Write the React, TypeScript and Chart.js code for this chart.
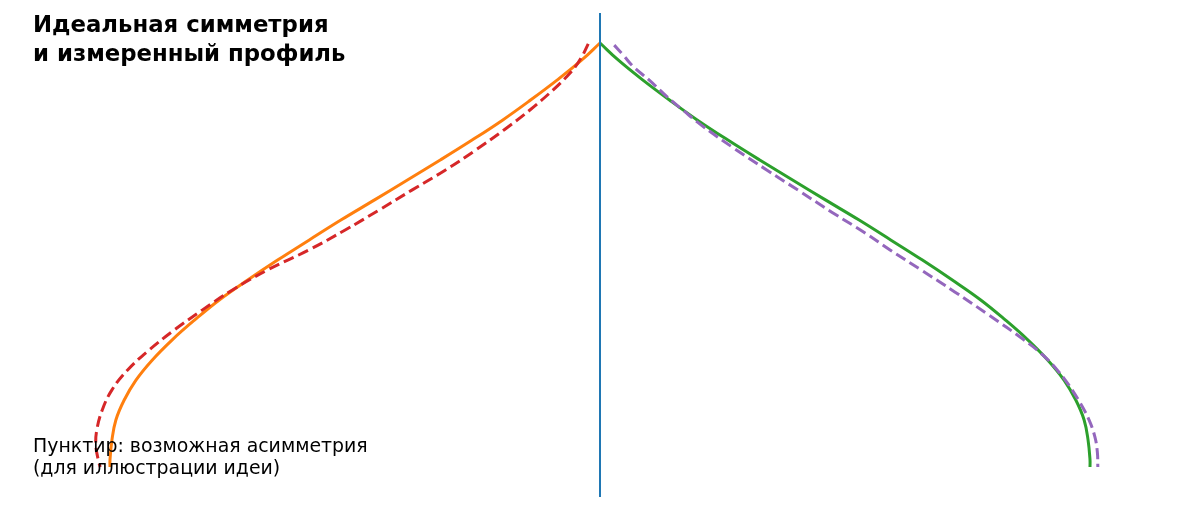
import React, { useEffect, useRef } from "react";
import { Chart, registerables } from "chart.js";

Chart.register(...registerables);

// Ideal profile (half-width r vs normalized height h); mirrored left/right
const idealH = [1.0, 0.960, 0.913, 0.866, 0.818, 0.771, 0.724, 0.677, 0.630, 0.583, 0.535, 0.488, 0.441, 0.394, 0.347, 0.300, 0.252, 0.205, 0.158, 0.111, 0.064, 0.017, 0.0];
const idealR = [0.0, 0.037, 0.087, 0.141, 0.199, 0.261, 0.326, 0.393, 0.460, 0.528, 0.594, 0.658, 0.719, 0.777, 0.827, 0.873, 0.914, 0.947, 0.971, 0.988, 0.996, 1.0, 1.0];

// Measured left side (dashed red)
const leftH = [0.998, 0.972, 0.943, 0.917, 0.889, 0.842, 0.795, 0.748, 0.700, 0.653, 0.606, 0.559, 0.512, 0.465, 0.417, 0.370, 0.323, 0.276, 0.229, 0.182, 0.134, 0.087, 0.052, 0.017, 0.0];
const leftR = [0.024, 0.035, 0.051, 0.071, 0.096, 0.143, 0.196, 0.253, 0.316, 0.384, 0.451, 0.520, 0.594, 0.678, 0.751, 0.812, 0.869, 0.920, 0.964, 0.996, 1.016, 1.027, 1.029, 1.024, 1.020];

// Measured right side (dashed purple)
const rightH = [0.995, 0.972, 0.943, 0.913, 0.873, 0.842, 0.807, 0.752, 0.700, 0.653, 0.601, 0.552, 0.512, 0.465, 0.413, 0.358, 0.300, 0.264, 0.229, 0.193, 0.151, 0.111, 0.071, 0.035, 0.0];
const rightR = [0.029, 0.047, 0.069, 0.100, 0.137, 0.169, 0.206, 0.273, 0.341, 0.404, 0.473, 0.541, 0.592, 0.655, 0.724, 0.794, 0.865, 0.904, 0.933, 0.957, 0.980, 0.998, 1.010, 1.015, 1.016];

// Symmetry axis
const axisH = [1.071, -0.071];

const titleLines = ["Идеальная симметрия", "и измеренный профиль"];
const noteLines = ["Пунктир: возможная асимметрия", "(для иллюстрации идеи)"];

const textPlugin = {
  id: "texts",
  afterDraw(chart: any) {
    const ctx = chart.ctx;
    ctx.save();
    ctx.fillStyle = "#000";
    ctx.textAlign = "left";
    ctx.textBaseline = "alphabetic";
    ctx.font = 'bold 22.8px "DejaVu Sans"';
    titleLines.forEach((t, i) => ctx.fillText(t, 33, 32 + i * 29));
    ctx.font = '18.9px "DejaVu Sans"';
    noteLines.forEach((t, i) => ctx.fillText(t, 33, 452 + i * 21.5));
    ctx.restore();
  },
};

export default function App() {
  const ref = useRef<HTMLCanvasElement | null>(null);
  useEffect(() => {
    if (!ref.current) return;
    const pts = (hs: number[], rs: number[], sign: number) =>
      hs.map((h, i) => ({ x: sign * rs[i], y: h }));
    const chart = new Chart(ref.current, {
      type: "line",
      data: {
        datasets: [
          {
            label: "axis",
            data: axisH.map((h) => ({ x: 0, y: h })),
            borderColor: "#1f77b4",
            borderWidth: 2,
            pointRadius: 0,
          },
          {
            label: "right measured",
            data: pts(rightH, rightR, 1),
            borderColor: "#9467bd",
            borderWidth: 3,
            borderDash: [11, 5],
            pointRadius: 0,
            tension: 0.4,
          },
          {
            label: "left measured",
            data: pts(leftH, leftR, -1),
            borderColor: "#d62728",
            borderWidth: 3,
            borderDash: [11, 5],
            pointRadius: 0,
            tension: 0.4,
          },
          {
            label: "right ideal",
            data: pts(idealH, idealR, 1),
            borderColor: "#2ca02c",
            borderWidth: 3,
            pointRadius: 0,
            tension: 0.4,
          },
          {
            label: "left ideal",
            data: pts(idealH, idealR, -1),
            borderColor: "#ff7f0e",
            borderWidth: 3,
            pointRadius: 0,
            tension: 0.4,
          },
        ],
      },
      options: {
        responsive: false,
        animation: false,
        layout: { padding: 0 },
        plugins: { legend: { display: false }, tooltip: { enabled: false } },
        scales: {
          x: { type: "linear", min: -600 / 490, max: 600 / 490, display: false },
          y: { type: "linear", min: -44 / 424, max: 467 / 424, display: false },
        },
      },
      plugins: [textPlugin],
    });
    return () => chart.destroy();
  }, []);
  return (
    <div style={{ position: "fixed", left: 0, top: 0, width: 1200, height: 511, background: "#fff" }}>
      <canvas ref={ref} width={1200} height={511} style={{ display: "block" }} />
    </div>
  );
}
